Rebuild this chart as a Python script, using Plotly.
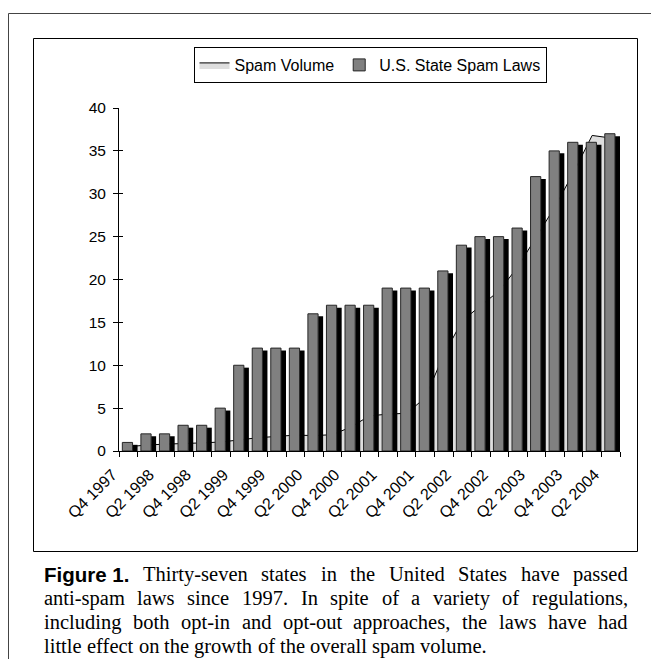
import plotly.graph_objects as go

# ---------------- data ----------------
quarters = ["Q4 1997", "Q1 1998", "Q2 1998", "Q3 1998", "Q4 1998", "Q1 1999", "Q2 1999",
            "Q3 1999", "Q4 1999", "Q1 2000", "Q2 2000", "Q3 2000", "Q4 2000", "Q1 2001",
            "Q2 2001", "Q3 2001", "Q4 2001", "Q1 2002", "Q2 2002", "Q3 2002", "Q4 2002",
            "Q1 2003", "Q2 2003", "Q3 2003", "Q4 2003", "Q1 2004", "Q2 2004"]
state_laws = [1, 2, 2, 3, 3, 5, 10, 12, 12, 12, 16, 17, 17, 17, 19, 19, 19, 21, 24, 25, 25,
              26, 32, 35, 36, 36, 37]
spam_volume = [0.5, 0.7, 0.8, 0.85, 0.95, 1.05, 1.3, 1.55, 1.7, 1.85, 1.8, 1.9, 2.8, 4.1,
               4.3, 4.4, 6.2, 11.2, 15.2, 17.0, 18.7, 21.5, 25.0, 28.5, 32.5, 36.8, 36.5]
tick_labels = ["Q4 1997", "Q2 1998", "Q4 1998", "Q2 1999", "Q4 1999", "Q2 2000", "Q4 2000",
               "Q2 2001", "Q4 2001", "Q2 2002", "Q4 2002", "Q2 2003", "Q4 2003", "Q2 2004"]
y_ticks = [0, 5, 10, 15, 20, 25, 30, 35, 40]
caption_label = "Figure 1."
caption_lines = [
    "Thirty-seven states in the United States have passed",
    "anti-spam laws since 1997. In spite of a variety of regulations,",
    "including both opt-in and opt-out approaches, the laws have had",
    "little effect on the growth of the overall spam volume.",
]

# ---------------- layout geometry (figure pixels; page has an 8px body margin) ----------------
W_PX, H_PX = 651, 651
L, R, T, B = 111, 612, 100, 443
PW, PH = R - L, B - T


def px(x):
    return (x - L) / PW


def py(y):
    return (B - y) / PH


SANS = "Liberation Sans, Arial, sans-serif"
SERIF = "Liberation Serif, Times New Roman, serif"

shown = set(tick_labels)
ticktext = [q if q in shown else "" for q in quarters]

fig = go.Figure()

# Spam volume area (base subplot, drawn behind the bars)
fig.add_trace(go.Scatter(
    x=quarters, y=spam_volume, name="Spam Volume", mode="lines",
    line=dict(color="black", width=1), fill="tozeroy", fillcolor="#dedede",
    xaxis="x", yaxis="y",
))

# 3D-like column side (black), slightly lowered
fig.add_trace(go.Bar(
    x=quarters, y=state_laws, base=-0.28, offset=0.23, width=0.27,
    marker=dict(color="black", line=dict(width=0)), showlegend=False,
    xaxis="x2", yaxis="y2",
))
# Column front (gray)
fig.add_trace(go.Bar(
    x=quarters, y=state_laws, name="U.S. State Spam Laws", offset=-0.32, width=0.55,
    marker=dict(color="#808080", line=dict(color="#262626", width=1)),
    xaxis="x2", yaxis="y2",
))

axis_common = dict(type="category", categoryorder="array", categoryarray=quarters,
                   range=[-0.5, len(quarters) - 0.5])

fig.update_layout(
    width=W_PX, height=H_PX,
    margin=dict(l=L, r=W_PX - R, t=T, b=H_PX - B, pad=0),
    paper_bgcolor="white", plot_bgcolor="white",
    barmode="overlay",
    font=dict(family=SANS, size=16, color="black"),
    xaxis=dict(**axis_common, tickmode="array", tickvals=quarters, ticktext=ticktext,
               tickangle=-45, tickson="boundaries", ticks="outside", ticklen=5,
               tickcolor="black", showline=True, linecolor="black", linewidth=1,
               showgrid=False, zeroline=False, ticklabelshift=-16, ticklabelstandoff=7,
               tickfont=dict(family=SANS, size=16)),
    yaxis=dict(range=[0, 40], tickmode="array", tickvals=y_ticks, ticks="outside",
               ticklen=5, tickcolor="black", showline=True, linecolor="black",
               linewidth=1, showgrid=False, zeroline=False, ticklabelstandoff=4,
               tickfont=dict(family=SANS, size=15.5)),
    xaxis2=dict(**axis_common, overlaying="x", visible=False),
    yaxis2=dict(range=[0, 40], overlaying="y", tickmode="array", tickvals=y_ticks,
                ticks="inside", ticklen=4, tickcolor="black", showticklabels=False,
                showline=False, showgrid=False, zeroline=False),
    legend=dict(orientation="h", x=px(362), y=py(39), xanchor="center", yanchor="top",
                bordercolor="black", borderwidth=1, bgcolor="white",
                font=dict(family=SANS, size=16), itemwidth=30, traceorder="normal",
                tracegroupgap=0),
    showlegend=True,
)

# frames
shapes = [
    dict(type="line", xref="paper", yref="paper", x0=px(0.5), x1=px(651), y0=py(5.5),
         y1=py(5.5), line=dict(color="#444444", width=1)),
    dict(type="line", xref="paper", yref="paper", x0=px(0.5), x1=px(0.5), y0=py(5.5),
         y1=py(651), line=dict(color="#444444", width=1)),
    dict(type="rect", xref="paper", yref="paper", x0=px(25.5), x1=px(629.5), y0=py(30.5),
         y1=py(543.5), line=dict(color="black", width=1), fillcolor="rgba(0,0,0,0)",
         layer="below"),
]
fig.update_layout(shapes=shapes)

# ---------------- caption (justified like the reference) ----------------
CAP_SIZE = 20.5
TIMES_W = {
    'a': 444, 'b': 500, 'c': 444, 'd': 500, 'e': 444, 'f': 333, 'g': 500, 'h': 500, 'i': 278,
    'j': 278, 'k': 500, 'l': 278, 'm': 778, 'n': 500, 'o': 500, 'p': 500, 'q': 500, 'r': 333,
    's': 389, 't': 278, 'u': 500, 'v': 500, 'w': 722, 'x': 500, 'y': 500, 'z': 444,
    'T': 611, 'U': 722, 'S': 556, 'I': 333, '-': 333, '.': 250, ',': 250, ' ': 250,
}
ARIAL_B_W = {'F': 611, 'i': 278, 'g': 611, 'u': 611, 'r': 389, 'e': 556, ' ': 278,
             '1': 556, '.': 278}


def word_width(w, table, size):
    return sum(table.get(ch, 500) for ch in w) * size / 1000.0


CAP_X0, CAP_X1 = 35, 619
line_y = [566, 590, 614, 638]
annotations = []
for i, (txt, yy) in enumerate(zip(caption_lines, line_y)):
    words = [(w, "serif") for w in txt.split(" ")]
    if i == 0:
        words = [(caption_label, "bold")] + words
    widths = [word_width(w, ARIAL_B_W if k == "bold" else TIMES_W, CAP_SIZE) for w, k in words]
    last = i == len(caption_lines) - 1
    if last:
        gap = 250 * CAP_SIZE / 1000.0
    else:
        gap = (CAP_X1 - CAP_X0 - sum(widths)) / (len(words) - 1)
    x = CAP_X0
    for (w, kind), wd in zip(words, widths):
        if kind == "bold":
            text = "<b>" + w + "</b>"
            fnt = dict(family=SANS, size=CAP_SIZE, color="black")
        else:
            text = w
            fnt = dict(family=SERIF, size=CAP_SIZE, color="black")
        annotations.append(dict(
            xref="paper", yref="paper", x=px(x), y=py(yy), xanchor="left", yanchor="middle",
            text=text, showarrow=False, align="left", borderpad=0, font=fnt,
        ))
        x += wd + gap
fig.update_layout(annotations=annotations)

fig.write_html("out.html")
